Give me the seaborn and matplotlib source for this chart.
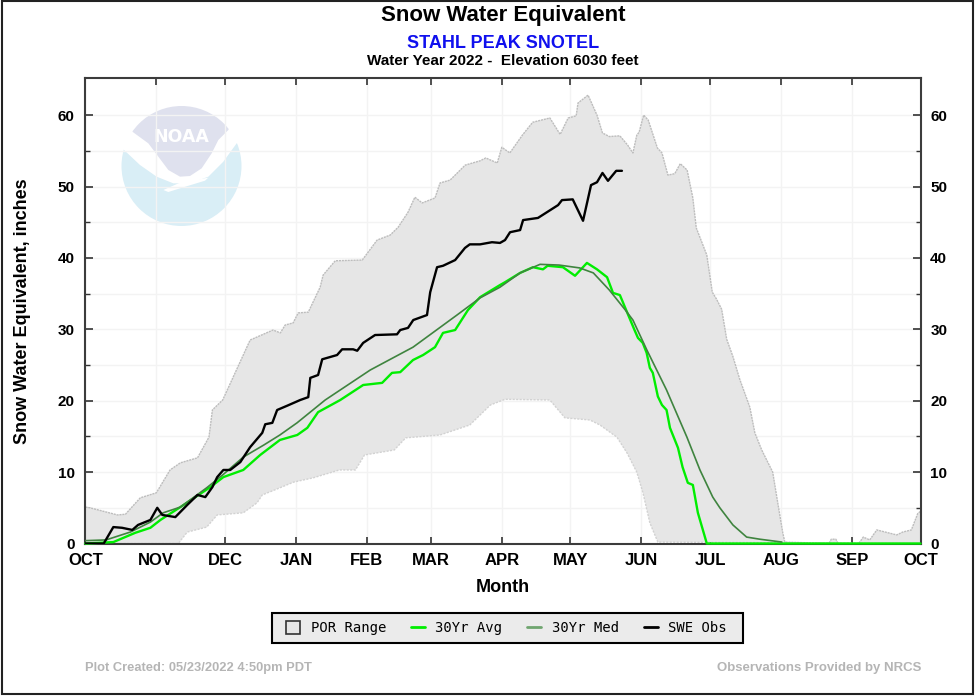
import matplotlib
matplotlib.use("Agg")
import matplotlib.pyplot as plt
import seaborn as sns
from matplotlib.patches import Circle, Polygon, Rectangle
from matplotlib.lines import Line2D

sns.set_style("white")
plt.rcParams['font.family'] = ['Liberation Sans', 'DejaVu Sans']
plt.rcParams['text.color'] = 'black'
plt.rcParams['axes.labelcolor'] = 'black'
plt.rcParams['xtick.labelcolor'] = 'black'
plt.rcParams['ytick.labelcolor'] = 'black'

month_labels = ["OCT","NOV","DEC","JAN","FEB","MAR","APR","MAY","JUN","JUL","AUG","SEP","OCT"]
month_days = [0,31,61,92,123,151,182,212,243,273,304,335,365]
y_major = [0,10,20,30,40,50,60]
y_minor = [5,15,25,35,45,55]

upper_days = [0,2,14,17.5,24,31,37,41.5,49,54,55.5,60,61,68,72,82,85.2,87.3,90.8,93,97.4,102.6,103.9,109.2,121,127.5,133.2,136.7,141,144,147.2,152.8,155,159.4,166,172.5,175,180,182,185.5,191,195.5,203,207.5,211,214.5,215.3,219.7,223.6,226,229,233.6,237,239.3,241,242,244,246,250,252,254.6,257.6,260,263,265.5,267,271.6,274,275.9,278.1,280.3,283,286,290.4,292.6,295.6,300.4,302.2,304.8,305.7,325,326,328,329,338,340,342.8,345.9,354.6,357.2,361,363.8,365]
upper_vals = [5.1,5.0,4.0,4.1,6.4,7.1,10.3,11.3,12.0,14.9,18.7,20.1,20.8,25.7,28.5,29.9,29.5,30.6,30.9,32.3,32.4,35.9,37.6,39.6,39.7,42.5,43.2,44.3,46.4,48.5,47.7,48.4,50.5,50.9,53,53.6,54,53.3,55.5,54.7,57.2,59,59.6,57.3,59.6,59.9,61.7,62.8,60,57.5,57,57.1,55.8,54.7,57.2,57.6,60,59.3,55.4,54.7,51.6,51.8,53.2,52.3,48.4,44.2,40.4,35.2,34.2,32.8,28.6,26.2,23,19.1,15.5,13.1,10,6.5,1.5,0.2,0,0.6,0.6,0,0,0.9,0.5,1.9,1.2,1.6,1.9,4.2,4.5]

lower_days = [0,40.6,44.5,53,57.6,69,75,77.3,85,91,99.6,111,118,122,135,140,155,168,177,183.4,203,209.6,220.5,224.9,232.3,236.7,241,243.7,246.7,250.2,365]
lower_vals = [0,0,1.6,2.3,4,4.3,5.7,6.8,7.8,8.6,9.2,10.3,10.3,12.4,13.1,14.8,15.2,16.6,19.4,20.2,20.1,17.6,17.3,16.6,14.9,12.7,10,7.1,2.9,0.2,0]

med_days = [0,9,19.6,28.4,34,41.5,53,60,69,78,85,92.5,104.8,124.5,143.2,162.4,172.5,181.2,190,198.7,207,216,222,229,236,239.3,245.4,254,262.9,268.6,274.2,277.3,283,289,294.8,304.4]
med_vals = [0.4,0.5,1.6,3,4.3,5.1,7.8,9.6,12.1,13.8,15.2,16.9,20.1,24.3,27.5,32,34.4,35.9,37.9,39.1,39,38.6,37.9,35.5,32.7,31.3,27.1,21.5,14.9,10.3,6.5,5,2.6,0.9,0.6,0.2]

avg_days = [0,12.2,21.8,28.4,32.8,41.5,54.6,60.3,69,76.4,85,92.6,97,101.7,111.4,121.4,129.7,134,137.6,143.2,147.6,152.8,156.3,161.6,167.2,172.5,181.2,183.4,190,195.6,200,202,208.7,214,219.2,223.6,228,230.6,233.6,240,241.5,243.6,245.3,246.7,248,250.2,252,254,255.5,259,261,263.3,265.5,267.7,271.6,365]
avg_vals = [0,0.2,1.5,2.2,3.3,5.1,7.9,9.3,10.3,12.4,14.5,15.2,16.2,18.4,20.1,22.2,22.5,23.9,24,25.7,26.4,27.5,29.5,29.9,32.7,34.5,36.2,36.6,37.9,38.7,38.4,38.9,38.7,37.5,39.3,38.4,37.3,35.1,34.8,29.9,28.8,28.1,26.7,24.6,23.9,20.6,19.4,18.7,16.2,13.4,10.7,8.5,8.2,4.3,0,0]

obs_days = [0,8,12.2,16,20.5,23,28.4,31.4,33.6,39.3,44.5,49,52.4,55.5,57.6,60.3,63.3,67.7,72,77.3,78.6,81.7,83.8,88.2,93.9,97.4,98.3,101.7,103.5,110,112.2,117,118.8,121.4,126.6,136.2,137.6,141,143.3,149.3,150.7,153.7,156.3,161.6,165.9,168,172.5,177.7,181.2,183.4,185.6,190,191.3,197.8,206.6,208.3,213,217.5,221,223.6,226,228.4,232,234.5]
obs_vals = [0,0,2.3,2.2,1.9,2.6,3.3,5,4,3.7,5.4,6.8,6.5,7.9,9.3,10.3,10.3,11.4,13.5,15.5,16.7,16.9,18.7,19.3,20.1,20.5,23.2,23.6,25.8,26.4,27.2,27.2,27,28.1,29.2,29.3,29.9,30.2,31.3,32,35.2,38.7,38.9,39.7,41.4,41.9,41.9,42.2,42.1,42.5,43.6,43.9,45.3,45.6,47.4,48.1,48.2,45.2,50.2,50.6,51.9,50.8,52.2,52.2]

legend_labels = ["POR Range","30Yr Avg","30Yr Med","SWE Obs"]

W, H = 975, 696
fig = plt.figure(figsize=(W/100, H/100), dpi=100, facecolor="white")
fig.add_artist(Rectangle((2/W, 2/H), 971/W, 693/H, transform=fig.transFigure, fill=False, ec="#222222", lw=1.5))

# NOAA logo underlay, drawn in pixel space
lg = fig.add_axes([0, 0, 1, 1], zorder=0)
lg.set_xlim(0, W); lg.set_ylim(H, 0); lg.axis("off")
def z(pts):
    return [(80 + a/3, 80 + b/3) for a, b in pts]
clip = Circle((181.5, 166), 60, transform=lg.transData)
lg.add_patch(Circle((181.5, 166), 60, fc="#d9eef6", ec="none"))
lg.add_patch(Polygon(z([(90,60),(510,60),(510,165),(470,190),(430,245),(385,290),(330,310),(280,310),(230,290),(180,255),(130,208),(90,190)]), fc="white", ec="none"))
lav = Polygon(z([(120,60),(490,60),(445,150),(415,180),(395,220),(365,265),(330,288),(300,290),(265,270),(235,230),(205,190),(157,155)]), fc="#dfe1ee", ec="none")
lg.add_patch(lav); lav.set_clip_path(clip)
lg.add_patch(Polygon(z([(250,330),(300,308),(385,293),(375,302),(300,325),(265,336)]), fc="white", ec="none"))
lg.text(181.5, 137.5, "NOAA", color="white", fontsize=12.5, fontweight="bold", ha="center", va="center", family="DejaVu Sans")

ax = fig.add_axes([84.5/W, 1-543.5/H, (920.5-84.5)/W, (543.5-78)/H], zorder=1)
ax.patch.set_alpha(0)

ax.fill(upper_days + lower_days[::-1], upper_vals + lower_vals[::-1], color="#e6e6e6", lw=0, zorder=1)
sns.lineplot(x=upper_days, y=upper_vals, color="#bdbdbd", lw=1, ls=(0,(1.5,0.6)), estimator=None, sort=False, ax=ax, zorder=2)
sns.lineplot(x=lower_days, y=lower_vals, color="#d2d2d2", lw=1, ls=(0,(1.5,1)), estimator=None, sort=False, ax=ax, zorder=2)
sns.lineplot(x=avg_days, y=avg_vals, color="#00ee00", lw=1.7, estimator=None, sort=False, ax=ax, zorder=3, clip_on=False)
sns.lineplot(x=med_days, y=med_vals, color="#3f843f", lw=1.2, estimator=None, sort=False, ax=ax, zorder=4)
sns.lineplot(x=obs_days, y=obs_vals, color="black", lw=1.7, estimator=None, sort=False, ax=ax, zorder=5)

ax.set_xlim(-0.4, 365)
ax.set_ylim(0, 65.2)
ax.set_xticks(month_days)
ax.set_xticklabels(month_labels, fontsize=12, fontweight="bold")
ax.set_yticks(y_major)
ax.set_yticks(y_minor, minor=True)
ax.tick_params(axis="y", which="both", left=True, right=True, labelright=True, direction="in", color="#333333")
ax.tick_params(axis="y", which="major", length=5.8, width=1.2, labelsize=11, pad=7)
ax.tick_params(axis="y", which="minor", length=3.6, width=1)
ax.tick_params(axis="x", which="major", bottom=True, top=True, direction="in", length=5, width=1.2, color="#333333", pad=7)
for t in ax.get_yticklabels():
    t.set_fontweight("bold")
ax.grid(True, which="both", axis="y", color="#f3f3f3", lw=1)
ax.grid(True, which="major", axis="x", color="#f3f3f3", lw=1)
ax.set_axisbelow(True)
for s in ["left","bottom","top","right"]:
    ax.spines[s].set_visible(True); ax.spines[s].set_color("#3c3c3c"); ax.spines[s].set_linewidth(1.5)
ax.set_xlabel("Month", fontsize=13, fontweight="bold", labelpad=8)
ax.set_ylabel("Snow Water Equivalent, inches", fontsize=13, fontweight="bold", labelpad=19)

def ftext(x, y, s, **k):
    fig.text(x/W, 1-y/H, s, ha=k.pop("ha","center"), va="center", **k)
ftext(503, 16, "Snow Water Equivalent", fontsize=16, fontweight="bold", color="black")
ftext(503, 44, "STAHL PEAK SNOTEL", fontsize=13, fontweight="bold", color="#1010ee")
ftext(503, 61, "Water Year 2022 -  Elevation 6030 feet", fontsize=11, fontweight="bold", color="black")
ftext(85, 668, "Plot Created: 05/23/2022 4:50pm PDT", ha="left", fontsize=9.3, fontweight="bold", color="#b5b5b5")
ftext(921, 668, "Observations Provided by NRCS", ha="right", fontsize=9.5, fontweight="bold", color="#b5b5b5")

fig.add_artist(Rectangle((272/W, 1-643/H), 471/W, 30/H, transform=fig.transFigure, fc="#ebebeb", ec="black", lw=1.5, zorder=3))
handles = [
    Rectangle((0,0),1,1, fc="#e6e6e6", ec="#333333", lw=1.2),
    Line2D([0],[0], color="#00ee00", lw=2),
    Line2D([0],[0], color="#6fa56f", lw=2),
    Line2D([0],[0], color="black", lw=2),
]
leg = fig.legend(handles, legend_labels, ncol=4, loc="center", bbox_to_anchor=(506.5/W, 1-628/H),
    frameon=False, prop={"family":"DejaVu Sans Mono","size":10}, handlelength=1.0, handleheight=1.1,
    columnspacing=1.8, handletextpad=0.75, borderpad=0, borderaxespad=0)
leg.set_zorder(4)

fig.savefig("out.png", dpi=100)
